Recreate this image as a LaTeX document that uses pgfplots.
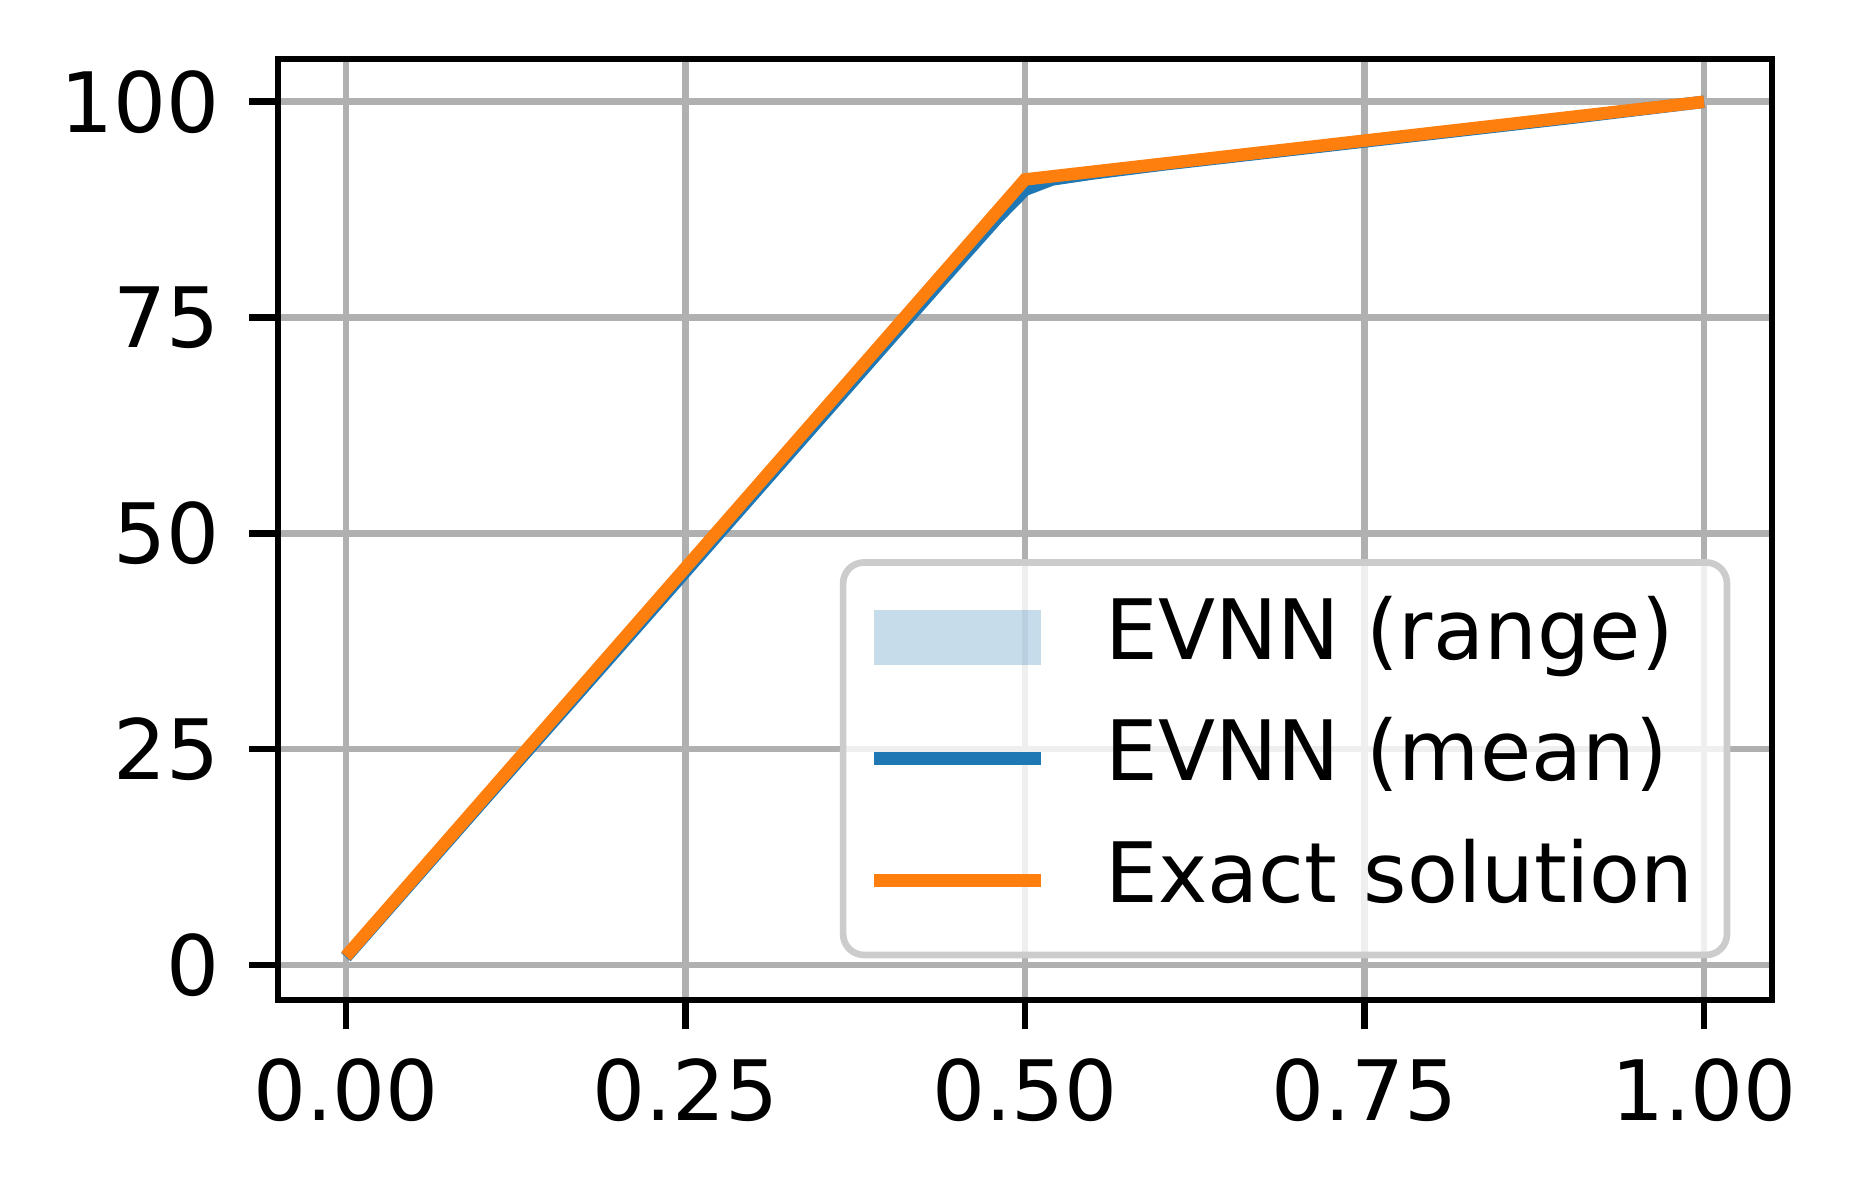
\documentclass[border=0pt]{standalone}
\usepackage{fontspec}
\setmainfont{DejaVu Sans}
\usepackage{pgfplots}
\pgfplotsset{compat=1.18}
\definecolor{C0}{HTML}{1F77B4}
\definecolor{C1}{HTML}{FF7F0E}
\definecolor{gridc}{HTML}{B0B0B0}
\definecolor{legc}{HTML}{CCCCCC}

% range band: upper edge left to right, then lower edge right to left
\pgfplotstableread{
x     y
0.00  1.1
0.10  19.0
0.20  36.9
0.30  54.8
0.40  72.7
0.45  81.7
0.48  87.0
0.50  90.3
0.52  91.3
0.55  91.9
0.60  92.9
0.70  94.7
0.80  96.5
0.90  98.3
1.00  100.1
1.00  99.8
0.90  97.9
0.80  96.0
0.70  94.2
0.60  92.4
0.55  91.4
0.52  90.6
0.50  89.3
0.48  86.1
0.45  80.9
0.40  72.0
0.30  54.1
0.20  36.2
0.10  18.4
0.00  0.5
}\rangetab

\begin{document}
\begin{tikzpicture}
\path[use as bounding box] (-33.36pt,-23.88pt) rectangle (189.36pt,120pt);
\begin{axis}[
  at={(0,0)}, anchor=south west,
  scale only axis, width=179.28pt, height=112.92pt,
  xmin=-0.05, xmax=1.05, ymin=-4.06, ymax=104.96,
  xtick={0,0.25,0.5,0.75,1}, ytick={0,25,50,75,100},
  xticklabel style={/pgf/number format/.cd, fixed, fixed zerofill, precision=2, assume math mode=true},
  yticklabel style={/pgf/number format/.cd, fixed, assume math mode=true},
  ticklabel style={font=\fontsize{10}{12}\selectfont},
  tick align=outside, xtick pos=lower, ytick pos=left,
  major tick length=3.5pt,
  every tick/.style={black, line width=0.8pt},
  axis line style={black, line width=0.8pt},
  grid=major, major grid style={gridc, line width=0.8pt},
  legend cell align=left,
  legend style={at={(0.9721,0.0443)}, anchor=south east,
    draw=legc, line width=0.8pt, rounded corners=2.5pt, fill=white, fill opacity=0.8, text opacity=1,
    inner xsep=3pt, inner ysep=4.3pt,
    font=\fontsize{10}{12}\selectfont,
    nodes={inner sep=0pt, text height=7.3pt, text depth=2pt},
    row sep=5.3pt,
    /tikz/every odd column/.append style={column sep=7pt}},
]
\addplot[fill=C0, fill opacity=0.25, draw=none,
  legend image code/.code={\fill[C0, fill opacity=0.25, rounded corners=0pt] (0pt,-3.3pt) rectangle (20pt,3.3pt);}]
  table[x=x, y=y] {\rangetab};
\addlegendentry{EVNN (range)\kern1pt}
\addplot[C0, line width=1.5pt,
  legend image code/.code={\draw[C0, line width=1.5pt, rounded corners=0pt] (0pt,0pt) -- (20pt,0pt);}]
  coordinates {(0,0.9) (0.1,18.8) (0.2,36.6) (0.3,54.5) (0.4,72.4) (0.45,81.3) (0.48,86.6) (0.5,89.8) (0.52,91.0) (0.55,91.7) (0.6,92.7) (0.7,94.5) (0.8,96.3) (0.9,98.1) (1.0,100)};
\addlegendentry{EVNN (mean)\kern1pt}
\addplot[C1, line width=1.5pt,
  legend image code/.code={\draw[C1, line width=1.5pt, rounded corners=0pt] (0pt,0pt) -- (20pt,0pt);}]
  coordinates {(0,1) (0.5,91) (1,100)};
\addlegendentry{Exact solution\kern1pt}
\end{axis}
\end{tikzpicture}
\end{document}
